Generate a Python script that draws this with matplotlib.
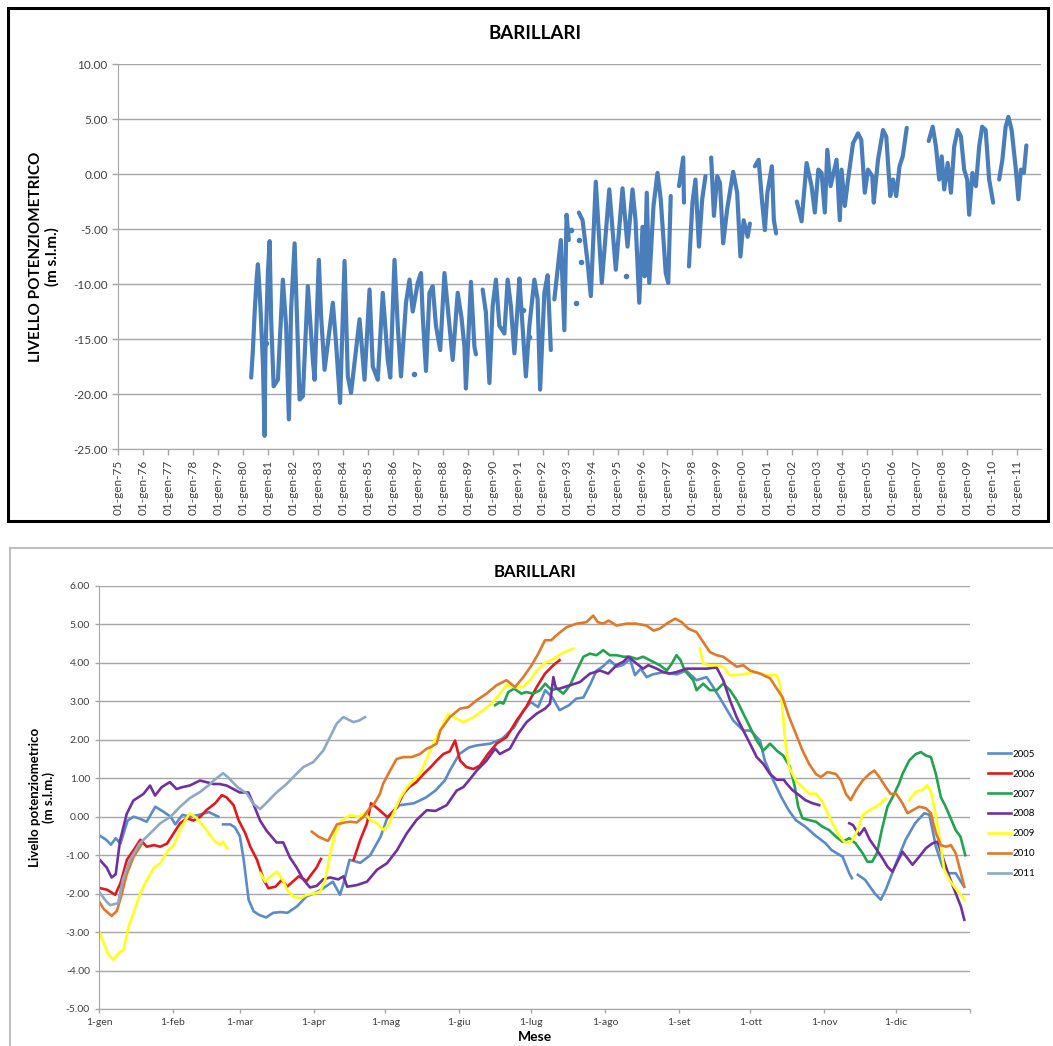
import numpy as np
import matplotlib.pyplot as plt
from matplotlib.patches import Rectangle

nan = np.nan

# ---- top chart: level vs time (decimal year), nan = data gap
top_years = [
    1980.33, 1980.40, 1980.47, 1980.55, 1980.60, 1980.65, 1980.70, 1980.80, 1980.87, 1980.90,
    1981.00, 1981.07, 1981.13, 1981.23, 1981.40, 1981.60, 1981.73, 1981.84, 1981.93,
    1982.07, 1982.20, 1982.27, 1982.40, 1982.60, 1982.80, 1982.87,
    1983.04, 1983.13, 1983.27, 1983.60, 1983.73, 1983.89,
    1984.07, 1984.20, 1984.33, 1984.67, 1984.87,
    1985.07, 1985.20, 1985.40, 1985.60, 1985.80, 1985.90,
    1986.07, 1986.20, 1986.33, 1986.53, 1986.67, 1986.80,
    1987.00, 1987.13, 1987.20, 1987.33, 1987.47, 1987.60, 1987.73, 1987.90,
    1988.07, 1988.27, 1988.40, 1988.60, 1988.75, 1988.87, 1988.93,
    1989.13, 1989.27, 1989.33, nan,
    1989.60, 1989.73, 1989.87, 1990.00, 1990.13, 1990.27, 1990.47, 1990.60, 1990.73, 1990.87,
    1991.00, 1991.07, 1991.20, 1991.33, 1991.47, 1991.67, 1991.80, 1991.90,
    1992.07, 1992.20, 1992.33, nan,
    1992.47, 1992.73, 1992.87, 1992.96, 1993.05, nan,
    1993.45, 1993.60, 1993.80, 1993.93, 1994.13, 1994.37, 1994.67, 1994.93,
    1995.20, 1995.40, 1995.60, 1995.72, 1995.87,
    1996.00, 1996.09, 1996.17, 1996.27, 1996.44, 1996.60, 1996.73, 1996.93,
    1997.03, 1997.13, nan, 1997.46, 1997.63, 1997.66, nan,
    1997.86, 1998.00, 1998.12, 1998.26, 1998.39, 1998.52, nan,
    1998.75, 1998.86, 1998.99, 1999.10, 1999.23, 1999.39, 1999.63, 1999.79, 1999.92,
    2000.05, 2000.21, 2000.30, nan,
    2000.50, 2000.65, 2000.78, 2000.90, 2001.00, 2001.18, 2001.26, 2001.35, nan,
    2002.18, 2002.37, 2002.57, 2002.77, 2002.90,
    2003.04, 2003.17, 2003.30, 2003.40, 2003.53, 2003.77, 2003.90, 2003.97,
    2004.10, 2004.23, 2004.43, 2004.63, 2004.76, 2004.90,
    2005.03, 2005.20, 2005.26, 2005.43, 2005.63, 2005.76, 2005.92,
    2006.03, 2006.16, 2006.29, 2006.42, 2006.58, nan,
    2007.46, 2007.62, 2007.75, 2007.88, 2007.98,
    2008.08, 2008.22, 2008.35, 2008.48, 2008.62, 2008.75, 2008.88,
    2009.00, 2009.08, 2009.21, 2009.35, 2009.48, 2009.60, 2009.74, 2009.88,
    2010.04, nan, 2010.28, 2010.41, 2010.54, 2010.65, 2010.78, 2010.95,
    2011.05, 2011.15, 2011.27, 2011.37,
]
top_levels = [
    -18.5, -16.0, -12.6, -9.5, -8.2, -10.0, -12.0, -17.2, -23.8, -16.3,
    -9.0, -6.1, -13.2, -19.3, -18.7, -9.6, -13.8, -22.3, -12.3,
    -6.3, -15.4, -20.5, -20.2, -10.2, -16.9, -18.7,
    -7.8, -12.9, -17.8, -11.7, -15.4, -20.8,
    -7.9, -18.4, -19.9, -13.2, -18.7,
    -10.5, -17.5, -18.7, -10.8, -16.9, -18.5,
    -7.8, -13.8, -18.4, -11.7, -9.6, -12.5,
    -9.9, -9.0, -12.9, -17.9, -10.8, -10.2, -13.8, -16.0,
    -9.0, -13.8, -16.9, -10.8, -13.0, -15.7, -19.5,
    -9.8, -15.7, -16.4, nan,
    -10.5, -12.6, -19.0, -12.0, -9.6, -13.8, -14.5, -9.6, -12.0, -16.3,
    -12.0, -9.5, -14.0, -18.4, -13.8, -9.6, -11.4, -19.6,
    -10.8, -9.2, -16.0, nan,
    -11.4, -6.0, -14.2, -3.7, -6.0, nan,
    -3.5, -4.2, -8.0, -11.1, -0.7, -9.9, -1.4, -8.7,
    -1.3, -6.6, -1.4, -4.2, -11.7,
    -4.8, -9.3, -1.7, -9.9, -2.9, 0.1, -2.3, -9.0,
    -9.9, -2.0, nan, -1.1, 1.5, -2.6, nan,
    -8.4, -2.6, -0.5, -6.6, -2.3, -0.2, nan,
    1.5, -3.8, -0.2, -0.8, -6.3, -3.2, 0.2, -1.7, -7.5,
    -4.2, -5.7, -4.5, nan,
    0.7, 1.3, -2.3, -5.1, -1.7, 0.7, -4.2, -5.4, nan,
    -2.5, -4.3, 1.0, -1.1, -3.5,
    0.4, 0.1, -3.5, 2.2, -1.1, 1.3, -4.2, 0.4,
    -2.9, -0.5, 2.8, 3.7, 3.1, -1.7,
    0.4, -0.2, -2.6, 1.3, 4.0, 3.4, -2.0,
    -0.5, -2.0, 0.7, 1.6, 4.2, nan,
    3.0, 4.3, 2.5, -0.5, 1.6,
    -1.4, 1.0, -1.7, 2.5, 4.0, 3.4, 0.4,
    -0.5, -3.7, 0.1, -1.1, 2.5, 4.3, 4.0, -0.5,
    -2.6, nan, -0.5, 1.3, 4.3, 5.2, 4.0, 0.4,
    -2.3, 0.4, 0.1, 2.6,
]
# isolated readings
dot_years = [1980.93, 1986.87, 1991.23, 1991.47, 1993.13, 1993.33, 1993.47, 1993.53, 1995.33]
dot_levels = [-15.4, -18.2, -12.4, -14.8, -5.1, -11.7, -6.0, -8.0, -9.3]

tick_years = list(range(1975, 2012))
tick_labels = ["01-gen-%02d" % (y % 100) for y in tick_years]

# ---- bottom chart: level vs day of year
month_days = [0, 31, 59, 90, 120, 151, 181, 212, 243, 273, 304, 334]
month_labels = ["1-gen", "1-feb", "1-mar", "1-apr", "1-mag", "1-giu",
                "1-lug", "1-ago", "1-set", "1-ott", "1-nov", "1-dic"]

days_2005 = [0, 3, 5, 7, 9, 12, 14.5, 17, 20, 23.6, 27, 30, 32, 35, 38, 42, 46, 50, nan,
             52, 55, 57, 59, 60.6, 62.7, 64.8, 67, 70, 73, 76, 79, 83, 87, 90, 93, 98, 101, 102.5,
             105, 109.5, 113.7, 118, 121, 126, 132, 137, 141, 145, 147, 151, 155, 158, 164, 169,
             174, 178, 181, 184, 187, 190, 193, 197, 200, 203, 206, 208.5, 211, 214, 217, 219.7,
             222.5, 224.6, 227, 229.5, 232, 236.5, 242, 246, 250.4, 254.6, 257.4, 261.6, 265.8,
             270, 273, 277, 279, 282.6, 286, 289, 292, 296, 300, 304.6, 307, 311.6, 314.4, 315.5, nan,
             318, 321, 325, 327.6, 329.7, 334, 338, 342, 345.8, 348, 350.7, 353.5, 356, 359, 362.5]
lev_2005 = [-0.48, -0.6, -0.73, -0.56, -0.7, -0.1, 0.0, -0.05, -0.13, 0.26, 0.13, 0.0, -0.2, 0.05, 0.0, 0.05, 0.12, 0.0, nan,
            -0.2, -0.2, -0.28, -0.5, -1.1, -2.16, -2.46, -2.55, -2.62, -2.5, -2.48, -2.5, -2.33, -2.07, -2.0, -1.9, -1.69, -2.03, -1.73,
            -1.12, -1.2, -1.0, -0.52, 0.0, 0.3, 0.35, 0.5, 0.68, 0.95, 1.2, 1.63, 1.8, 1.85, 1.9, 2.03,
            2.33, 2.77, 2.98, 2.85, 3.29, 3.1, 2.77, 2.9, 3.07, 3.1, 3.46, 3.8, 3.9, 4.07, 3.9, 3.95,
            4.1, 3.68, 3.85, 3.63, 3.7, 3.76, 3.7, 3.8, 3.55, 3.63, 3.37, 2.94, 2.5,
            2.24, 2.24, 1.98, 1.46, 0.94, 0.5, 0.17, -0.09, -0.26, -0.48, -0.7, -0.87, -1.04, -1.47, -1.6, nan,
            -1.51, -1.64, -1.99, -2.16, -1.9, -1.21, -0.6, -0.17, 0.09, 0.05, -0.78, -1.3, -1.47, -1.47, -1.82]

days_2006 = [0, 3.4, 6.8, 9, 11.7, 14.5, 17.3, 20, 23, 25.7, 28.5, 31.3, 34, 36.9, 39.5, 42.5, 45, 48.7,
             51.5, 53.5, 56.4, 58.5, 61.3, 63.4, 66.2, 69, 71, 73.9, 76.7, 78.8, 81, 83.7, 87, 89, 91.2, 93, nan,
             106.7, 109.5, 112.3, 114, 117, 121, 124.7, 127.5, 130, 133, 136, 139, 141.5, 144.3, 147, 149.2,
             151.3, 154, 156.9, 159.6, 163, 166.6, 170.8, 175, 179, 183.4, 186.9, 190.4, 193]
lev_2006 = [-1.85, -1.9, -2.03, -1.73, -1.12, -0.87, -0.6, -0.78, -0.74, -0.78, -0.7, -0.43, -0.17, -0.04, -0.1, 0.0, 0.17, 0.35,
            0.56, 0.5, 0.3, -0.09, -0.43, -0.78, -1.12, -1.64, -1.86, -1.82, -1.64, -1.82, -1.7, -1.55, -1.67, -1.5, -1.32, -1.1, nan,
            -1.12, -0.6, -0.17, 0.35, 0.2, -0.02, 0.24, 0.59, 0.77, 0.9, 1.11, 1.29, 1.46, 1.63, 1.7, 1.98,
            1.46, 1.29, 1.24, 1.33, 1.63, 1.9, 2.07, 2.5, 2.85, 3.37, 3.72, 3.94, 4.07]

days_2007 = [166, 168, 169.5, 171.5, 174, 177, 179, 182, 184.8, 187, 189.7, 191.8, 194.6, 197.4, 200.2, 203,
             205.7, 208.5, 211.3, 214, 216.9, 219.7, 222.5, 225.3, 228, 230.9, 235, 237.9, 240, 242, 243.7,
             245.5, 249, 250.4, 253.2, 256, 258.8, 261.6, 264.4, 267.2, 270, 272.8, 275.6, 278.4, 281.2, 284,
             286.7, 289.5, 291.5, 293, 294.8, 297.6, 300.4, 303.2, 306, 308.8, 311.6, 314.4, 317, 320, 322, 324,
             326, 328, 330.4, 333, 335.3, 336.7, 339.5, 342.3, 344.4, 346.5, 348.6, 350.7, 352.8, 354.5, 356,
             359, 361, 363]
lev_2007 = [2.9, 2.98, 2.94, 3.24, 3.33, 3.2, 3.24, 3.2, 3.29, 3.46, 3.29, 3.33, 3.2, 3.42, 3.8, 4.16,
            4.24, 4.2, 4.33, 4.2, 4.2, 4.16, 4.16, 4.1, 4.16, 4.07, 3.94, 3.8, 3.98, 4.2, 4.07,
            3.8, 3.55, 3.29, 3.46, 3.29, 3.29, 3.46, 3.29, 3.03, 2.68, 2.33, 1.98, 1.72, 1.9, 1.72,
            1.59, 1.3, 0.8, 0.26, -0.04, -0.09, -0.13, -0.26, -0.35, -0.52, -0.65, -0.56, -0.69, -0.95, -1.17, -1.17,
            -0.95, -0.35, 0.26, 0.56, 0.87, 1.11, 1.46, 1.63, 1.68, 1.59, 1.55, 1.11, 0.5, 0.3, 0.09,
            -0.35, -0.52, -1.0]

days_2008 = [0, 3.2, 5.3, 7, 8.8, 11.6, 14.4, 18.6, 21.4, 23.5, 26.3, 29.7, 32.5, 35, 38, 42.3, 45, 47.9,
             50.5, 53.5, 56.3, 59, 62.6, 64.7, 67.5, 70.3, 74.4, 77.2, 80, 82.8, 85.6, 88.4, 91.2, 94, 96.8,
             100.3, 102.5, 104, 108, 112.3, 116.5, 120.7, 124.9, 129, 133, 137.4, 141, 145.7, 149.9, 152.7,
             155.5, 158.3, 162.4, 166, 168, 172.2, 175.7, 179.2, 183.4, 186.9, 189, 190.4, 191.5, 193, 197.4,
             201.5, 205.7, 210, 213.4, 216.9, 219.7, 221.8, 225.3, 228, 230.2, 233.7, 236.5, 239, 242, 246.2,
             250.4, 254.6, 258.8, 261.6, 264.4, 267.2, 270, 272.8, 275.6, 278.4, 281.2, 284, 287, 288, 290.6,
             293.4, 296, 299, 301.8, nan, 314.4, 316, 318.6, 320.7, 323, 325.5, 328.3, 330.4, 332.5, 334.6,
             336.7, 338.8, 340.9, 343.7, 346.5, 349.3, 351.4, 353.5, 356.3, 359, 361.2, 362.6]
lev_2008 = [-1.1, -1.32, -1.58, -1.5, -0.63, 0.07, 0.42, 0.59, 0.81, 0.55, 0.77, 0.9, 0.72, 0.77, 0.81, 0.94, 0.9, 0.85,
            0.85, 0.81, 0.72, 0.63, 0.63, 0.33, -0.1, -0.37, -0.67, -0.67, -1.06, -1.32, -1.63, -1.84, -1.8, -1.63, -1.58,
            -1.63, -1.55, -1.82, -1.78, -1.69, -1.38, -1.21, -0.87, -0.43, -0.09, 0.17, 0.15, 0.3, 0.68, 0.77,
            0.98, 1.2, 1.46, 1.77, 1.63, 1.77, 2.16, 2.46, 2.68, 2.81, 2.94, 3.63, 3.33, 3.33, 3.42,
            3.5, 3.72, 3.8, 3.72, 3.94, 4.03, 4.16, 3.98, 3.85, 3.94, 3.85, 3.76, 3.72, 3.76, 3.85,
            3.85, 3.85, 3.88, 3.55, 3.03, 2.59, 2.24, 1.9, 1.55, 1.37, 1.11, 0.96, 0.96, 0.87, 0.69,
            0.56, 0.43, 0.35, 0.3, nan, -0.17, -0.22, -0.48, -0.3, -0.6, -0.82, -1.08, -1.3, -1.43, -1.17,
            -0.91, -1.08, -1.25, -1.04, -0.82, -0.69, -0.65, -1.04, -1.56, -1.99, -2.34, -2.68]

days_2009 = [0, 2, 4, 6.1, 8.2, 10.3, 12.4, 14.5, 17.3, 20.1, 22.9, 25.7, 28.5, 31.3, 34, 36.2, 38, 41, 43.9,
             46, 48.7, 50.8, 52, 53.6, nan, 67.6, 69.7, 71.8, 74.6, 77.4, 78.8, 81.6, 84.4, 87.2, 90.6, 92.7,
             94.8, 96.9, 99, 101.8, 105.3, 108.8, 111.6, 113.7, 116.5, 119.3, 121.4, 124.2, 126.3, 128.9, 131.7,
             134.5, 137.3, 140, 142.9, 146.4, 148.5, 152.7, 156.9, 161, 164.5, 168, 170.8, 174, 177.8, 180.6,
             183.4, 186.9, 190.4, 194.6, 198.8, nan, 251.8, 253.2, 255.5, 258.8, 261.6, 264.4, 267, 271.4,
             275.5, 279.8, 284, 285.5, 286.4, 287.8, 289.2, 292, 294.8, 297.6, 300.4, 303.2, 305.3, 307.4, 310,
             312.3, 314.4, 315.8, 317.9, 320, 322.8, 325.6, 327.6, 329.7, nan, 339.5, 342.3, 345, 347, 348.6,
             350, 351.4, 352.8, 354.2, 356.3, 358.4, 360.5, 362.6]
lev_2009 = [-2.98, -3.29, -3.59, -3.72, -3.55, -3.46, -2.85, -2.5, -1.99, -1.64, -1.34, -1.21, -0.91, -0.74, -0.35, -0.09, 0.09, -0.04, -0.26,
            -0.43, -0.65, -0.74, -0.65, -0.82, nan, -1.47, -1.69, -1.56, -1.43, -1.69, -1.9, -2.08, -2.12, -2.03, -1.99, -1.95,
            -1.64, -0.95, -0.43, -0.09, 0.04, 0.0, 0.09, -0.09, -0.17, -0.35, -0.2, 0.2, 0.5, 0.75, 0.94,
            1.11, 1.5, 1.9, 2.25, 2.68, 2.59, 2.46, 2.59, 2.77, 2.94, 3.2, 3.42, 3.37, 3.37, 3.55,
            3.8, 4.0, 4.1, 4.27, 4.37, nan, 4.37, 3.98, 3.94, 3.94, 3.9, 3.68, 3.68, 3.72,
            3.76, 3.68, 3.68, 3.4, 2.8, 1.81, 1.29, 0.94, 0.77, 0.6, 0.6, 0.39, 0.09, -0.17, -0.48,
            -0.65, -0.69, -0.6, -0.35, 0.04, 0.17, 0.26, 0.35, 0.48, nan, 0.43, 0.65, 0.69, 0.82, 0.65,
            0.26, -0.26, -0.78, -1.38, -1.64, -1.82, -1.99, -2.16]

days_2010 = [0, 2, 5.3, 7.5, 9.5, 11.6, 14.4, 17.9, nan, 89.2, 92, 94.8, 96, 98, 99.7, 103, 105.3, 108, 110.9,
             113.7, 115, 117.7, 119, 122, 124.7, 127.5, 131, 134.5, 137.3, 139, 141.5, 143, 147, 151.3, 154.8,
             158.3, 162.4, 166.6, 170.8, 174.3, 177.8, 181.3, 184.1, 186.9, 189.5, 192.5, 196, 200.2, 204.3,
             207.1, 209, 211.3, 213.5, 216.9, 221, 225, 229.5, 232.3, 235, 237.9, 241.4, 244.1, 247, 250.4,
             253.2, 256, 258.8, 261.6, 264.4, 267.2, 270, 272.8, 277, 281.2, 283.6, 286.4, 289.2, 292, 294.8,
             297.6, 300.4, 302.5, 305.3, 308.8, 310.9, 313, 315, 317.2, 320, 322.8, 324.9, 327, 329.7, 331.8,
             334, 336.7, 338.8, 341, 343.7, 346.5, 348.6, 350.7, 352.8, 355, 357, 359, 361.2, 362.6]
lev_2010 = [-2.2, -2.4, -2.58, -2.45, -2.02, -1.5, -1.06, -0.71, nan, -0.39, -0.52, -0.6, -0.63, -0.4, -0.2, -0.15, -0.13, -0.15, 0.0,
            0.25, 0.3, 0.59, 0.85, 1.2, 1.5, 1.55, 1.55, 1.63, 1.77, 1.81, 1.9, 2.24, 2.59, 2.81, 2.85,
            3.03, 3.2, 3.42, 3.55, 3.37, 3.63, 3.94, 4.24, 4.59, 4.59, 4.76, 4.93, 5.02, 5.06,
            5.23, 5.06, 5.02, 5.1, 4.97, 5.02, 5.02, 4.97, 4.84, 4.89, 5.02, 5.15, 5.06, 4.89, 4.8,
            4.54, 4.28, 4.2, 4.16, 4.03, 3.9, 3.94, 3.8, 3.72, 3.6, 3.37, 3.11, 2.59, 2.16, 1.72,
            1.37, 1.11, 1.03, 1.16, 1.11, 0.94, 0.59, 0.43, 0.69, 0.94, 1.11, 1.2, 1.03, 0.77, 0.59,
            0.6, 0.35, 0.09, 0.17, 0.26, 0.22, 0.09, -0.43, -0.74, -0.78, -0.74, -0.95, -1.47, -1.82]

days_2011 = [0, 3, 4.7, 8, 10, 13, 17, 21.5, 25.7, 30, 34, 38, 42.5, 46.6, 48, 52, 54, 58, 62, 64.7, 67.5,
             70, 74.4, 78.6, 81.4, 85.6, 89.8, 94, 96.8, 99.6, 102.4, 106.6, 109, 111.5]
lev_2011 = [-1.95, -2.2, -2.3, -2.25, -1.64, -1.12, -0.7, -0.43, -0.17, 0.0, 0.26, 0.48, 0.65, 0.85, 0.94, 1.13, 1.03, 0.77, 0.6, 0.33, 0.2,
            0.35, 0.63, 0.85, 1.03, 1.29, 1.42, 1.72, 2.07, 2.42, 2.59, 2.46, 2.5, 2.59]

years = ["2005", "2006", "2007", "2008", "2009", "2010", "2011"]
colors = ["#5B8BC9", "#E3181C", "#22A34F", "#7030A0", "#FFFF1A", "#E07A2A", "#8FA8C8"]
series_days = [days_2005, days_2006, days_2007, days_2008, days_2009, days_2010, days_2011]
series_levels = [lev_2005, lev_2006, lev_2007, lev_2008, lev_2009, lev_2010, lev_2011]

plt.rcParams["font.family"] = ["Lato", "DejaVu Sans"]
txt = "#3F3F3F"
grid_c = "#A6A6A6"

fig = plt.figure(figsize=(10.53, 10.46), dpi=100)

# frames
fig.patches.append(Rectangle((0.0076, 0.502), 0.988, 0.490, transform=fig.transFigure,
                             fill=False, edgecolor="black", linewidth=2.2))
fig.patches.append(Rectangle((0.0095, -0.01), 1.0, 0.486, transform=fig.transFigure,
                             fill=False, edgecolor="#BFBFBF", linewidth=1.5))

# ---- top chart
ax1 = fig.add_axes([0.1121, 0.5707, 0.8766, 0.3681])
ax1.plot(top_years, top_levels, color="#4A7EBB", lw=3.0, solid_joinstyle="round",
         solid_capstyle="round")
ax1.plot(dot_years, dot_levels, "o", color="#4A7EBB", ms=3, ls="none")
ax1.set_xlim(1975, 2011.96)
ax1.set_ylim(-25, 10)
ax1.set_yticks(np.arange(-25, 10.1, 5))
ax1.set_yticklabels(["%.2f" % v for v in np.arange(-25, 10.1, 5)], fontsize=8.5, color=txt)
ax1.set_xticks(tick_years)
ax1.set_xticklabels(tick_labels, rotation=90, fontsize=8.5, color=txt)
ax1.yaxis.grid(True, color=grid_c, lw=1)
ax1.set_axisbelow(True)
for s in ["top", "right"]:
    ax1.spines[s].set_visible(False)
for s in ["left", "bottom"]:
    ax1.spines[s].set_color(grid_c)
ax1.tick_params(axis="both", colors=grid_c, labelcolor=txt, length=4, width=1)
ax1.set_ylabel("LIVELLO POTENZIOMETRICO\n(m s.l.m.)", fontsize=11, fontweight="bold",
               labelpad=10, linespacing=1.1)
fig.text(0.508, 0.968, "BARILLARI", ha="center", va="center", fontsize=13.5, fontweight="bold")

# ---- bottom chart
ax2 = fig.add_axes([0.0940, 0.0354, 0.8272, 0.4044])
for d, v, c, lab in zip(series_days, series_levels, colors, years):
    ax2.plot(d, v, color=c, lw=1.9, label=lab)
ax2.set_xlim(0, 365)
ax2.set_ylim(-5, 6)
ax2.set_yticks(np.arange(-5, 6.1, 1))
ax2.set_yticklabels(["%.2f" % v for v in np.arange(-5, 6.1, 1)], fontsize=7.5, color=txt)
ax2.set_xticks(month_days + [365])
ax2.set_xticklabels(month_labels + [""], fontsize=7.5, color=txt)
ax2.yaxis.grid(True, color=grid_c, lw=1)
ax2.set_axisbelow(True)
for s in ["top", "right"]:
    ax2.spines[s].set_visible(False)
for s in ["left", "bottom"]:
    ax2.spines[s].set_color(grid_c)
ax2.tick_params(axis="both", colors=grid_c, labelcolor=txt, length=3, width=1)
ax2.set_ylabel("Livello potenziometrico\n(m s.l.m.)", fontsize=9.5, fontweight="bold",
               labelpad=8, linespacing=1.1)
ax2.set_xlabel("Mese", fontsize=10, fontweight="bold", labelpad=3)
fig.text(0.508, 0.453, "BARILLARI", ha="center", va="center", fontsize=12, fontweight="bold")

fig.legend(loc="center left", bbox_to_anchor=(0.938, 0.2218), frameon=False, fontsize=7,
           handlelength=2.4, handletextpad=0.1, labelspacing=1.12, borderpad=0, borderaxespad=0)

fig.savefig("out.png", dpi=100)
